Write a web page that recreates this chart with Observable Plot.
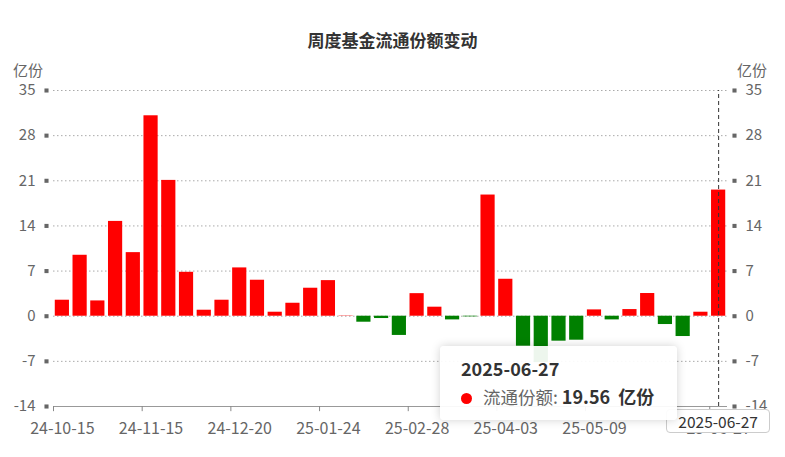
<!DOCTYPE html>
<html>
<head>
<meta charset="utf-8">
<script src="https://cdn.jsdelivr.net/npm/d3@7"></script>
<script src="https://cdn.jsdelivr.net/npm/@observablehq/plot@0.6"></script>
<style>
  body { margin: 0; background: #fff; font-family: "Noto Sans CJK SC", "Noto Sans", sans-serif; }
  #wrap { position: relative; width: 785px; height: 457px; overflow: hidden; background: #fff; }
  #wrap svg { position: absolute; left: 0; top: 0; }
  .title { position: absolute; left: 0; width: 785px; top: 29px; text-align: center; font-weight: bold; font-size: 17px; color: #333; line-height: 22px; }
  .unit { position: absolute; top: 61px; font-size: 15px; color: #666; line-height: 17px; }
  .tooltip { position: absolute; left: 440px; top: 346px; width: 237px; height: 74px; background: rgba(255,255,255,0.93); border-radius: 4px; box-shadow: 0 0 10px rgba(0,0,0,0.18); box-sizing: border-box; padding: 11px 0 0 21px; color: #333; }
  .tooltip .d { font-weight: bold; font-size: 18px; line-height: 23px; }
  .tooltip .row { margin-top: 5px; font-size: 17px; line-height: 23px; white-space: nowrap; }
  .tooltip .dot { display: inline-block; width: 11px; height: 11px; border-radius: 50%; background: #ff0000; margin-right: 11px; vertical-align: 0px; }
  .tooltip .lbl { color: #666; font-size: 17.5px; }
  .tooltip .val { font-weight: bold; color: #333; font-size: 18px; }
  .ptr { position: absolute; top: 409px; height: 24px; width: 104px; background: #fff; border: 1px solid #ccc; border-radius: 4px; box-sizing: border-box; font-size: 15.5px; line-height: 22px; text-align: center; color: #333; }
</style>
</head>
<body>
<div id="wrap"></div>
<script>
const dates = ["2024-10-15","2024-10-18","2024-10-25","2024-11-01","2024-11-08","2024-11-15","2024-11-22","2024-11-29","2024-12-06","2024-12-13","2024-12-20","2024-12-27","2025-01-03","2025-01-10","2025-01-17","2025-01-24","2025-01-27","2025-02-07","2025-02-14","2025-02-21","2025-02-28","2025-03-07","2025-03-14","2025-03-21","2025-03-28","2025-04-03","2025-04-11","2025-04-18","2025-04-25","2025-04-30","2025-05-09","2025-05-16","2025-05-23","2025-05-30","2025-06-06","2025-06-13","2025-06-20","2025-06-27"];
const values = [2.48, 9.45, 2.37, 14.7, 9.86, 31.08, 21.06, 6.81, 0.93, 2.48, 7.49, 5.58, 0.62, 2.01, 4.34, 5.52, 0.05, -0.93, -0.36, -2.98, 3.5, 1.4, -0.57, -0.1, 18.79, 5.73, -4.65, -7.2, -3.87, -3.72, 0.98, -0.57, 1.03, 3.52, -1.29, -3.15, 0.62, 19.56];
const labelDates = ["2024-10-15","2024-11-15","2024-12-20","2025-01-24","2025-02-28","2025-04-03","2025-05-09","2025-06-27"];
const yTicks = [-14, -7, 0, 7, 14, 21, 28, 35];
const title = "周度基金流通份额变动";
const unit = "亿份";
const seriesName = "流通份额";
const focusDate = "2025-06-27";

const data = dates.map((d, i) => ({date: d, value: values[i]}));
const W = 785, H = 457;
const M = {top: 90, right: 58, bottom: 51, left: 53};
const step = (W - M.left - M.right) / dates.length;

const chart = Plot.plot({
  width: W, height: H,
  marginTop: M.top, marginRight: M.right, marginBottom: M.bottom, marginLeft: M.left,
  style: {fontFamily: '"Noto Sans CJK SC","Noto Sans",sans-serif', fontSize: "15px", color: "#666", background: "transparent", overflow: "visible"},
  x: {type: "band", domain: dates, paddingInner: 0.2, paddingOuter: 0.1, round: false, axis: null, label: null},
  y: {domain: [-14, 35], axis: null, label: null},
  marks: [
    Plot.ruleY(yTicks.filter(t => t > -14), {stroke: "#aaa", strokeDasharray: "1.5,2.5"}),
    Plot.barY(data, {x: "date", y: "value", fill: d => d.value >= 0 ? "#ff0000" : "#008000"}),
    Plot.ruleY([-14], {stroke: "#999"}),
    Plot.ruleX(labelDates, {x: d => d, y1: -14, y2: -14.8, dx: -step / 2, stroke: "#888"}),
    Plot.ruleX([focusDate], {x: d => d, y1: -14, y2: 35, stroke: "#333", strokeDasharray: "4,3"}),
    Plot.dot(yTicks, {y: d => d, frameAnchor: "left", dx: -7, symbol: "square", r: 2.3, fill: "#666"}),
    Plot.dot(yTicks, {y: d => d, frameAnchor: "right", dx: 7, symbol: "square", r: 2.3, fill: "#666"}),
    Plot.axisY(yTicks, {anchor: "left", label: null, tickSize: 0, tickPadding: 18, fontSize: 15, tickFormat: d => String(d)}),
    Plot.axisY(yTicks, {anchor: "right", label: null, tickSize: 0, tickPadding: 18, fontSize: 15, tickFormat: d => String(d)}),
    Plot.axisX(labelDates, {anchor: "bottom", label: null, tickSize: 0, tickPadding: 16, fontSize: 16, tickFormat: d => d.slice(2)})
  ]
});

const wrap = document.getElementById("wrap");
wrap.appendChild(chart);

const t = document.createElement("div");
t.className = "title"; t.textContent = title; wrap.appendChild(t);

const u1 = document.createElement("div");
u1.className = "unit"; u1.style.left = "13px"; u1.textContent = unit; wrap.appendChild(u1);
const u2 = document.createElement("div");
u2.className = "unit"; u2.style.left = "737px"; u2.textContent = unit; wrap.appendChild(u2);

const xs = chart.scale("x");
const cx = xs.apply(focusDate) + xs.bandwidth / 2;
const focusValue = values[dates.indexOf(focusDate)];

const ptr = document.createElement("div");
ptr.className = "ptr"; ptr.textContent = focusDate;
ptr.style.left = (cx - 52) + "px";
wrap.appendChild(ptr);

const tip = document.createElement("div");
tip.className = "tooltip";
tip.innerHTML = `<div class="d">${focusDate}</div><div class="row"><span class="dot"></span><span class="lbl">${seriesName}: </span><span class="val">${focusValue.toFixed(2)}&nbsp; ${unit}</span></div>`;
wrap.appendChild(tip);
</script>
</body>
</html>
